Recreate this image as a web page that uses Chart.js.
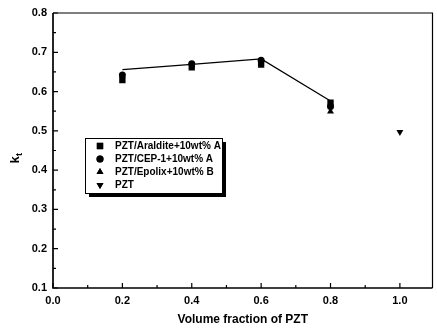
<!DOCTYPE html>
<html>
<head>
<meta charset="utf-8">
<script src="https://cdn.jsdelivr.net/npm/chart.js@4.4.1/dist/chart.umd.min.js"></script>
<style>
    html, body { margin: 0; padding: 0; background: #fff; overflow: hidden; }
    #wrap { position: relative; width: 437px; height: 329px; }
</style>
</head>
<body>
<div id="wrap"><canvas id="chart"></canvas></div>
<script>
// data
const seriesNames = ['PZT/Araldite+10wt% A', 'PZT/CEP-1+10wt% A', 'PZT/Epolix+10wt% B', 'PZT'];
const aralditeX = [0.2, 0.4, 0.6, 0.8];
const aralditeY = [0.629, 0.664, 0.671, 0.572];
const cepX = [0.2, 0.4, 0.6, 0.8];
const cepY = [0.642, 0.671, 0.680, 0.562];
const epolixX = [0.4, 0.6, 0.8];
const epolixY = [0.659, 0.666, 0.549];
const pztX = [1.0];
const pztY = [0.497];
const lineX = [0.2, 0.4, 0.6, 0.8];
const lineY = [0.656, 0.669, 0.683, 0.576];
const xTicks = [0.0, 0.2, 0.4, 0.6, 0.8, 1.0];
const yTicks = [0.1, 0.2, 0.3, 0.4, 0.5, 0.6, 0.7, 0.8];

const FONT = '"Liberation Sans", Arial, sans-serif';

const toPoints = (xs, ys) => xs.map((x, i) => ({ x: x, y: ys[i] }));

const markerSet = (label, xs, ys, style, radius, rotation) => ({
    label: label,
    data: toPoints(xs, ys),
    showLine: false,
    pointStyle: style,
    pointRadius: radius,
    pointRotation: rotation || 0,
    backgroundColor: '#000',
    borderColor: '#000',
    borderWidth: 0
});

// frame + inward ticks (major and minor)
const framePlugin = {
    id: 'frame',
    afterDraw(chart) {
        const { ctx, chartArea: a, scales } = chart;
        const x = scales.x, y = scales.y;
        ctx.save();
        ctx.strokeStyle = '#000';
        ctx.lineWidth = 1.2;
        ctx.beginPath();
        ctx.moveTo(a.left, a.top);
        ctx.lineTo(a.right, a.top);
        ctx.lineTo(a.right, a.bottom);
        ctx.stroke();
        ctx.lineWidth = 1.7;
        ctx.beginPath();
        ctx.moveTo(a.left, a.top);
        ctx.lineTo(a.left, a.bottom);
        ctx.lineTo(a.right, a.bottom);
        ctx.stroke();

        ctx.lineWidth = 1.2;
        ctx.beginPath();
        xTicks.forEach((v, i) => {
            const px = x.getPixelForValue(v);
            ctx.moveTo(px, a.bottom);
            ctx.lineTo(px, a.bottom - 5);
            if (i < xTicks.length - 1) {
                const mx = x.getPixelForValue((v + xTicks[i + 1]) / 2);
                ctx.moveTo(mx, a.bottom);
                ctx.lineTo(mx, a.bottom - 3);
            }
        });
        yTicks.forEach((v, i) => {
            const py = y.getPixelForValue(v);
            ctx.moveTo(a.left, py);
            ctx.lineTo(a.left + 5, py);
            if (i < yTicks.length - 1) {
                const my = y.getPixelForValue((v + yTicks[i + 1]) / 2);
                ctx.moveTo(a.left, my);
                ctx.lineTo(a.left + 3, my);
            }
        });
        ctx.stroke();

        // axis titles
        ctx.fillStyle = '#000';
        ctx.font = 'bold 12px ' + FONT;
        ctx.textAlign = 'center';
        ctx.textBaseline = 'middle';
        ctx.fillText('Volume fraction of PZT', (a.left + a.right) / 2, 320);

        ctx.translate(15, 160);
        ctx.rotate(-Math.PI / 2);
        ctx.font = 'bold 13px ' + FONT;
        ctx.textAlign = 'center';
        ctx.fillText('k', 0, 0);
        ctx.font = 'bold 9px ' + FONT;
        ctx.textAlign = 'left';
        ctx.fillText('t', 4, 5);
        ctx.restore();
    }
};

// boxed legend with shadow, inside the plot
const legendPlugin = {
    id: 'boxLegend',
    afterDraw(chart) {
        const ctx = chart.ctx;
        const l = 85, t = 138, r = 222, b = 193;
        ctx.save();
        ctx.fillStyle = '#fff';
        ctx.fillRect(l, t, r - l, b - t);
        ctx.fillStyle = '#000';
        ctx.fillRect(l + 4, b, r - l, 4);
        ctx.fillRect(r, t + 4, 4, b - t);
        ctx.strokeStyle = '#000';
        ctx.lineWidth = 1;
        ctx.strokeRect(l + 0.5, t + 0.5, r - l, b - t);

        const rows = [146, 159, 172, 185];
        const sets = chart.data.datasets.slice(0, 4);
        ctx.font = 'bold 10px ' + FONT;
        ctx.textBaseline = 'middle';
        ctx.textAlign = 'left';
        sets.forEach((ds, i) => {
            Chart.helpers.drawPoint(ctx, {
                pointStyle: ds.pointStyle,
                radius: ds.pointRadius,
                rotation: ds.pointRotation,
                borderWidth: 0
            }, 100, rows[i]);
            ctx.fillStyle = '#000';
            ctx.fill();
            ctx.fillText(ds.label, 115, rows[i]);
        });
        ctx.restore();
    }
};

new Chart(document.getElementById('chart').getContext('2d'), {
    type: 'scatter',
    data: {
        datasets: [
            markerSet(seriesNames[0], aralditeX, aralditeY, 'rect', 4.5),
            markerSet(seriesNames[1], cepX, cepY, 'circle', 3.5),
            markerSet(seriesNames[2], epolixX, epolixY, 'triangle', 4),
            markerSet(seriesNames[3], pztX, pztY, 'triangle', 4, 180),
            {
                label: 'fit',
                data: toPoints(lineX, lineY),
                showLine: true,
                pointRadius: 0,
                borderColor: '#000',
                borderWidth: 1.3,
                fill: false
            }
        ]
    },
    options: {
        responsive: true,
        maintainAspectRatio: false,
        animation: false,
        layout: { padding: { top: 13, right: 1, left: 0, bottom: 0 } },
        plugins: {
            legend: { display: false },
            tooltip: { enabled: false }
        },
        scales: {
            x: {
                type: 'linear',
                min: 0,
                max: 1.094,
                grid: { display: false, drawTicks: false },
                border: { display: false },
                afterFit: (scale) => { scale.height = 41; },
                afterBuildTicks: (scale) => { scale.ticks = xTicks.map(v => ({ value: v })); },
                ticks: {
                    padding: 6,
                    color: '#000',
                    font: { family: FONT, size: 11, weight: 'bold' },
                    callback: (v) => Number(v).toFixed(1)
                }
            },
            y: {
                type: 'linear',
                min: 0.1,
                max: 0.8,
                grid: { display: false, drawTicks: false },
                border: { display: false },
                afterFit: (scale) => { scale.width = 53; },
                afterBuildTicks: (scale) => { scale.ticks = yTicks.map(v => ({ value: v })); },
                ticks: {
                    padding: 6,
                    color: '#000',
                    font: { family: FONT, size: 11, weight: 'bold' },
                    callback: (v) => Number(v).toFixed(1)
                }
            }
        }
    },
    plugins: [framePlugin, legendPlugin]
});
</script>
</body>
</html>
